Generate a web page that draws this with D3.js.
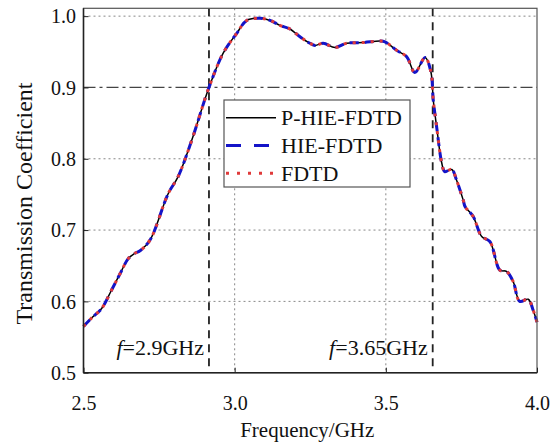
<!DOCTYPE html>
<html>
<head>
<meta charset="utf-8">
<script src="https://cdn.jsdelivr.net/npm/d3@7/dist/d3.min.js"></script>
<style>
  html, body { margin: 0; padding: 0; background: #fff; }
  svg { display: block; font-family: "Liberation Serif", "Times New Roman", serif; }
</style>
</head>
<body>
<svg id="chart" width="560" height="443"></svg>
<script>
// ---- data ----
const freq = [2.500, 2.530, 2.560, 2.593, 2.620, 2.648, 2.668, 2.687, 2.720, 2.780, 2.813, 2.858, 2.915,
  2.962, 3.007, 3.040, 3.084, 3.117, 3.150, 3.183, 3.216, 3.249, 3.266, 3.293, 3.332, 3.370, 3.425, 3.480, 3.497,
  3.536, 3.569, 3.596, 3.630, 3.649, 3.657, 3.668, 3.685, 3.695, 3.718, 3.734, 3.756, 3.762, 3.789, 3.817, 3.844,
  3.877, 3.899, 3.921, 3.943, 3.971, 3.987, 4.000];
const pHieFdtd = [0.565, 0.578, 0.590, 0.616, 0.638, 0.660, 0.667, 0.671, 0.686, 0.751, 0.775, 0.826, 0.900,
  0.948, 0.976, 0.994, 0.997, 0.994, 0.987, 0.982, 0.971, 0.962, 0.959, 0.962, 0.956, 0.962, 0.963, 0.965, 0.964,
  0.952, 0.943, 0.921, 0.942, 0.922, 0.882, 0.845, 0.794, 0.782, 0.785, 0.770, 0.742, 0.733, 0.719, 0.691, 0.684,
  0.644, 0.642, 0.628, 0.600, 0.603, 0.588, 0.571];
const hieFdtd = [0.565, 0.578, 0.590, 0.616, 0.638, 0.660, 0.667, 0.671, 0.686, 0.751, 0.775, 0.826, 0.900,
  0.948, 0.976, 0.994, 0.997, 0.994, 0.987, 0.982, 0.971, 0.962, 0.959, 0.962, 0.956, 0.962, 0.963, 0.965, 0.964,
  0.952, 0.943, 0.921, 0.942, 0.922, 0.882, 0.845, 0.794, 0.782, 0.785, 0.770, 0.742, 0.733, 0.719, 0.691, 0.684,
  0.644, 0.642, 0.628, 0.600, 0.603, 0.588, 0.571];
const fdtd = [0.565, 0.578, 0.590, 0.616, 0.638, 0.660, 0.667, 0.671, 0.686, 0.751, 0.775, 0.826, 0.900,
  0.948, 0.976, 0.994, 0.997, 0.994, 0.987, 0.982, 0.971, 0.962, 0.959, 0.962, 0.956, 0.962, 0.963, 0.965, 0.964,
  0.952, 0.943, 0.921, 0.942, 0.922, 0.882, 0.845, 0.794, 0.782, 0.785, 0.770, 0.742, 0.733, 0.719, 0.691, 0.684,
  0.644, 0.642, 0.628, 0.600, 0.603, 0.588, 0.571];
const seriesNames = ["P-HIE-FDTD", "HIE-FDTD", "FDTD"];
const xTicks = [2.5, 3.0, 3.5, 4.0];
const yTicks = [0.5, 0.6, 0.7, 0.8, 0.9, 1.0];
const xGrid = [3.0, 3.5];
const yGrid = [0.6, 0.7, 0.8, 1.0];
const yRef = [0.9];
const markerFreqs = [2.915, 3.655];
const markerLabels = ["2.9GHz", "3.65GHz"];
const xTitle = "Frequency/GHz";
const yTitle = "Transmission Coefficient";

// ---- layout ----
const L = 83.5, R = 537, T = 8.3, B = 372.7;
const svg = d3.select("#chart");
const x = d3.scaleLinear().domain([2.5, 4.0]).range([L, R]);
const y = d3.scaleLinear().domain([0.5, 1.011]).range([B, T]);

// grid
const g = svg.append("g");
g.selectAll(".gy").data(yGrid).join("line")
  .attr("x1", L).attr("x2", R).attr("y1", d => y(d)).attr("y2", d => y(d))
  .attr("stroke", "#888").attr("stroke-width", 1).attr("stroke-dasharray", "2,3");
g.selectAll(".gx").data(xGrid).join("line")
  .attr("y1", T).attr("y2", B).attr("x1", d => x(d)).attr("x2", d => x(d))
  .attr("stroke", "#888").attr("stroke-width", 1).attr("stroke-dasharray", "2,3");
g.selectAll(".gr").data(yRef).join("line")
  .attr("x1", L).attr("x2", R).attr("y1", d => y(d)).attr("y2", d => y(d))
  .attr("stroke", "#444").attr("stroke-width", 1.2).attr("stroke-dasharray", "12,4,3,4");
g.selectAll(".mk").data(markerFreqs).join("line")
  .attr("y1", T).attr("y2", B).attr("x1", d => x(d)).attr("x2", d => x(d))
  .attr("stroke", "#222").attr("stroke-width", 1.8).attr("stroke-dasharray", "8,6");

// curves
const pts = arr => freq.map((f, i) => [f, arr[i]]);
const line = d3.line().x(d => x(d[0])).y(d => y(d[1])).curve(d3.curveCatmullRom.alpha(0.5));
const styles = [
  { stroke: "#000", width: 1.5, dash: null },
  { stroke: "#1414c8", width: 3, dash: "9,6" },
  { stroke: "#e03a3a", width: 3, dash: "3,6" }
];
[pHieFdtd, hieFdtd, fdtd].forEach((arr, i) => {
  svg.append("path").attr("d", line(pts(arr))).attr("fill", "none")
    .attr("stroke", styles[i].stroke).attr("stroke-width", styles[i].width)
    .attr("stroke-dasharray", styles[i].dash);
});

// frame
svg.append("rect").attr("x", L).attr("y", T).attr("width", R - L).attr("height", B - T)
  .attr("fill", "none").attr("stroke", "#555").attr("stroke-width", 1.2);
svg.append("line").attr("x1", L).attr("x2", L).attr("y1", T).attr("y2", B).attr("stroke", "#222").attr("stroke-width", 1.5);
svg.append("line").attr("x1", L).attr("x2", R).attr("y1", B).attr("y2", B).attr("stroke", "#222").attr("stroke-width", 1.5);

// axes
const xAxis = svg.append("g").attr("transform", `translate(0,${B})`)
  .call(d3.axisBottom(x).tickValues(xTicks).tickFormat(d3.format(".1f")).tickSize(-5).tickSizeOuter(0));
xAxis.select(".domain").remove();
xAxis.selectAll("line").attr("stroke", "#222");
xAxis.selectAll("text").attr("dy", null).attr("y", 37).attr("font-size", 20)
  .attr("font-family", "Liberation Serif").attr("fill", "#111");
const yAxis = svg.append("g").attr("transform", `translate(${L},0)`)
  .call(d3.axisLeft(y).tickValues(yTicks).tickFormat(d3.format(".1f")).tickSize(-5).tickSizeOuter(0));
yAxis.select(".domain").remove();
yAxis.selectAll("line").attr("stroke", "#222");
yAxis.selectAll("text").attr("x", -7.5).attr("dy", "0.34em").attr("font-size", 20)
  .attr("font-family", "Liberation Serif").attr("fill", "#111");

// titles
svg.append("text").attr("x", (L + R) / 2 - 3).attr("y", 437).attr("text-anchor", "middle")
  .attr("font-size", 21).attr("fill", "#111").text(xTitle);
svg.append("text").attr("transform", `translate(32,${(T + B) / 2 + 13}) rotate(-90)`)
  .attr("text-anchor", "middle").attr("font-size", 24).attr("fill", "#111").text(yTitle);

// marker labels
markerFreqs.forEach((f, i) => {
  const t = svg.append("text").attr("x", x(f) - 5).attr("y", 355).attr("text-anchor", "end")
    .attr("font-size", 22).attr("fill", "#111");
  t.append("tspan").attr("font-style", "italic").text("f");
  t.append("tspan").text("=" + markerLabels[i]);
});

// legend
const lg = svg.append("g");
lg.append("rect").attr("x", 224).attr("y", 100).attr("width", 186).attr("height", 87)
  .attr("fill", "#fff").attr("stroke", "#555").attr("stroke-width", 1.2);
const legDash = [null, "15,13", "3,8"];
const legEnd = [276, 269, 280];
seriesNames.forEach((name, i) => {
  const yy = 117.7 + i * 27.8;
  lg.append("line").attr("x1", 226).attr("x2", legEnd[i]).attr("y1", yy).attr("y2", yy)
    .attr("stroke", styles[i].stroke).attr("stroke-width", styles[i].width)
    .attr("stroke-dasharray", legDash[i]);
  lg.append("text").attr("x", 281).attr("y", yy).attr("dy", "0.35em")
    .attr("font-size", 22).attr("fill", "#111").text(name);
});
</script>
</body>
</html>
